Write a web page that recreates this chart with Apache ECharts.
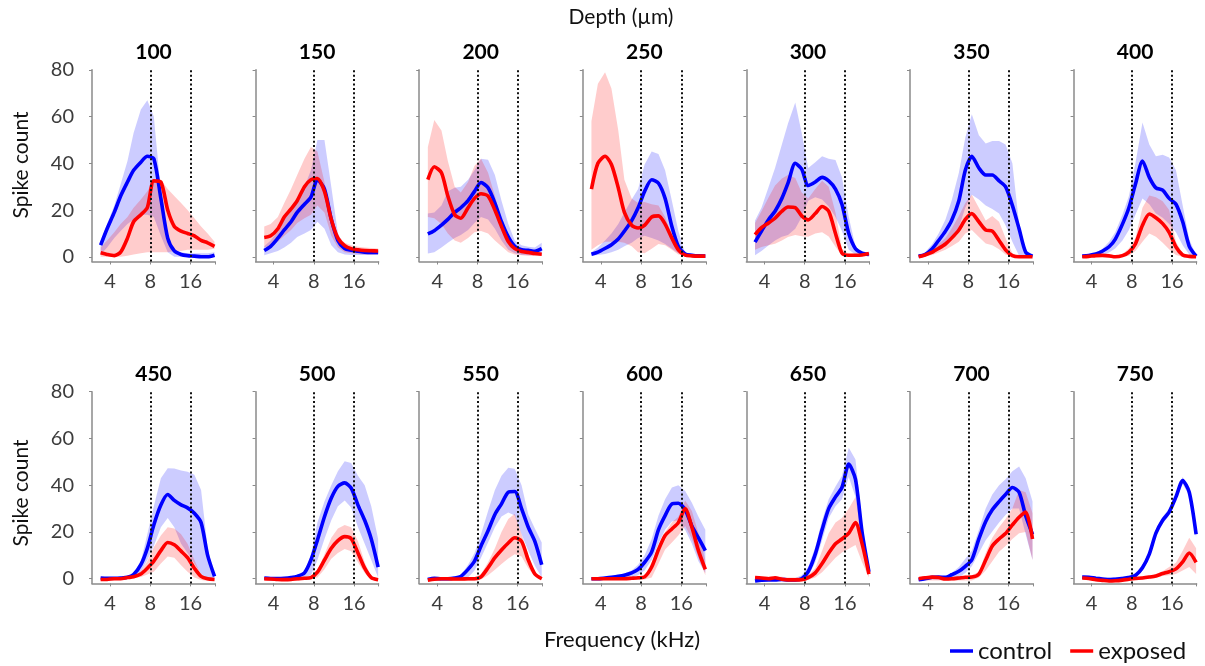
<!DOCTYPE html>
<html><head><meta charset="utf-8">
<script src="https://cdn.jsdelivr.net/npm/echarts@6/dist/echarts.min.js"></script>
<style>html,body{margin:0;padding:0;background:#fff}#c{width:1205px;height:666px}</style>
</head><body><div id="c"></div>
<script>
// ---- data ----
const FREQ_KHZ = [3.4, 3.8, 4.3, 4.8, 5.4, 6.0, 6.8, 7.6, 8.5, 9.6, 10.8, 12.1, 13.6, 15.2, 17.1, 19.2, 21.5, 24.2];
const X_TICK_KHZ = [4, 8, 16];
const X_RANGE_KHZ = [2.93, 24.4];
const DIVIDER_KHZ = [8, 16];
const Y_TICKS = [0, 20, 40, 60, 80];
const DEPTHS = [100, 150, 200, 250, 300, 350, 400, 450, 500, 550, 600, 650, 700, 750];

const c100   = [5, 12, 19, 26, 32, 37, 40.5, 43, 42, 25, 8, 2.5, 1, 0.5, 0.3, 0, 0, 0.7];
const c100lo = [1, 4, 8, 11, 14, 16, 18, 18, 17, 9, 2, 0, 0, 0, 0, 0, 0, 0];
const c100hi = [6, 14, 22, 31, 41, 53, 63, 67, 60, 28, 8.5, 3, 2, 1.5, 1.5, 1.5, 1.5, 2];
const e100   = [1.7, 1, 0.5, 2, 8, 15, 18, 21, 32.5, 32, 20, 13, 11, 10, 9, 7, 6, 4.5];
const e100lo = [0, 0, 0, 0, 0.5, 1, 1.5, 2, 2, 2, 2, 2.5, 2.5, 3, 3, 3, 3, 3.5];
const e100hi = [4, 7, 10.5, 14, 17, 21, 24.5, 28, 33, 33, 29, 26, 23, 20, 16.5, 13, 10, 6.5];

const c150   = [2.7, 4.5, 8, 11.5, 15, 19, 22.5, 25.5, 33, 29, 16, 7, 3.5, 2.8, 2.4, 2, 1.9, 1.9];
const c150lo = [0.7, 1.5, 2.5, 4, 6, 8.5, 10, 11.5, 15, 12, 5, 2, 1, 0.8, 0.8, 0.8, 0.8, 0.8];
const c150hi = [4.5, 7, 11, 16, 20, 24, 30, 37, 50, 50, 30, 10, 4.5, 3.5, 3, 2.8, 2.8, 2.8];
const e150   = [8.3, 9, 12, 17, 20.5, 24, 30, 33, 33.5, 28, 16, 8, 4.8, 3.5, 3, 2.7, 2.6, 2.5];
const e150lo = [4, 5, 6.5, 9, 11.5, 14.5, 16.5, 18, 22, 19, 9, 4, 2, 1.5, 1.2, 1, 1, 1];
const e150hi = [13, 14, 17, 23, 29, 35, 42, 47, 45, 32, 17, 9, 6, 5, 4.3, 4, 3.8, 3.6];

const c200   = [9.8, 11.2, 13.6, 16, 19, 21, 24, 28, 31.8, 29.5, 23, 15, 8.5, 4.5, 3, 2.8, 2.4, 3.5];
const c200lo = [1.4, 2, 4, 6, 8, 9.3, 11.5, 14.5, 17, 16, 12, 7, 3, 1.5, 0.8, 0.7, 0.7, 0.7];
const c200hi = [18.5, 19, 22, 28, 29.5, 30, 33, 37, 42, 41.5, 35, 24, 14, 7, 5, 4.3, 4, 6];
const e200   = [33, 38.5, 36, 26, 18, 16.5, 21, 25, 27, 26, 20, 13, 6.5, 3.5, 2.3, 1.9, 1.4, 1.1];
const e200lo = [17, 16.5, 14, 10, 7, 6, 8, 10.5, 11, 10, 7, 4.5, 2, 1, 0.7, 0.5, 0.4, 0.3];
const e200hi = [47, 58.5, 54, 41, 30, 27.5, 32, 39, 42, 36, 26, 16, 8.6, 4.5, 3, 2.6, 2.2, 1.7];

const c250   = [1.1, 2, 3.6, 5.2, 7.6, 11, 15.5, 21, 28, 33, 31.5, 25, 13, 4.5, 1.2, 0.7, 0.4, 0.3];
const c250lo = [0.5, 0.8, 1.2, 2, 3, 4.5, 6, 8, 9, 8, 7, 5.5, 3.5, 1.5, 0.5, 0.3, 0.3, 0.3];
const c250hi = [2, 4, 7, 10, 14, 19, 24.5, 29, 39.5, 45, 44, 37, 24, 11, 1.5, 0.8, 0.6, 0.5];
const e250   = [29, 40, 43, 39.5, 29.5, 19, 13.5, 12.3, 13.5, 17, 17.5, 14, 8, 3, 0.7, 0.4, 0.3, 0.3];
const e250lo = [3, 5, 6.5, 6.5, 6.5, 6, 4.5, 2, 1.5, 3.5, 5.5, 5, 3, 1, 0.3, 0, 0, 0];
const e250hi = [58, 74, 79, 72, 54, 33, 25, 23, 23.5, 22.5, 22, 17, 9, 3.5, 1.2, 0.8, 0.6, 0.5];

const c300   = [6.3, 11, 16, 19.5, 25, 31.5, 40, 37.5, 30.5, 32, 34, 32.5, 29, 22.5, 10, 3.5, 1.6, 1];
const c300lo = [0.7, 2.5, 5, 7, 8.6, 9.3, 12, 17, 24, 25.5, 24.5, 21.5, 17, 11, 3, 1, 0.7, 0.7];
const c300hi = [15.5, 21, 30, 38, 48, 57, 66, 53, 38, 40.5, 43, 42, 41.4, 34, 17, 4.3, 2.1, 1.7];
const e300   = [9.5, 12.5, 14.5, 16.5, 19.5, 21.3, 21, 17.5, 15.8, 18.5, 21.5, 19.5, 10, 1.6, 0.7, 0.7, 0.8, 1.4];
const e300lo = [3, 4.2, 5, 5.6, 7, 8.5, 9.3, 8.8, 8.6, 10, 10.5, 8.7, 4.3, 0.5, 0.3, 0.3, 0.4, 0.8];
const e300hi = [14.5, 19.5, 25.5, 30.5, 33.5, 35, 33.7, 27.5, 25, 29, 32.5, 30, 19, 3.5, 1.2, 1, 1, 1.5];

const c350   = [0.3, 1, 3.5, 7, 11, 15.5, 24, 37, 43, 38, 35, 35, 32.5, 30, 22, 12, 2, 0.3];
const c350lo = [0, 0.5, 1.2, 3, 5, 8, 12.5, 21, 26.5, 24.5, 22, 20.5, 18.5, 13.5, 6.5, 0.5, 0, 0];
const c350hi = [0.6, 2, 5.5, 10, 16, 24, 36, 51, 61, 52, 48.5, 49.5, 49.5, 48, 40, 14, 1.5, 0.5];
const e350   = [0, 0.8, 2, 3.6, 5.5, 8, 11.5, 16, 18.5, 15, 11.5, 11, 7, 3, 0.5, 0, 0, 0];
const e350lo = [0, 0.2, 0.8, 1.8, 3, 4.5, 6.5, 10, 11.5, 8.5, 5.7, 5, 3.2, 1, 0, 0, 0, 0];
const e350hi = [0.5, 1.5, 3.7, 5.5, 8, 12, 17.5, 23, 26.5, 21, 15.5, 17.5, 15, 8, 1.5, 0.3, 0.2, 0.2];

const c400   = [0.3, 0.6, 1.2, 2.4, 4.3, 7.5, 14, 21, 31, 41, 34, 29.5, 28.5, 25, 22.5, 15, 4.5, 0.3];
const c400lo = [0, 0.2, 0.4, 0.7, 1.8, 3.6, 7, 11.5, 18, 25, 22.5, 18.5, 16.7, 14, 10.5, 5, 1, 0];
const c400hi = [0.7, 1, 1.8, 3.3, 6.5, 10.5, 18, 26, 40, 57.5, 48, 43, 43.7, 42.5, 37, 22, 7.5, 0.7];
const e400   = [0, 0.2, 0.5, 0.6, 0.4, 0, 0.5, 2, 5.5, 13.5, 18.3, 16.7, 14.2, 10.5, 4.2, 0.8, 0.2, 0];
const e400lo = [0, 0, 0.2, 0.2, 0, 0, 0, 0.5, 2.5, 6.5, 10, 8.6, 6, 3.2, 0.8, 0, 0, 0];
const e400hi = [0.3, 0.5, 0.8, 1, 0.8, 0.5, 1.2, 3.6, 8, 21, 26.2, 25.5, 23.8, 20, 6.5, 1.5, 0.4, 0.2];

const c450   = [0.3, 0.2, 0.2, 0.3, 0.6, 1.8, 6, 13, 23, 31.5, 36, 33.5, 31.6, 30.3, 28, 24, 10, 1];
const c450lo = [0, 0, 0, 0, 0.2, 0.5, 3, 8, 14, 22, 26, 22, 15, 11, 6.5, 2, 0, 0];
const c450hi = [0.5, 0.5, 0.5, 0.6, 1, 2.5, 7.5, 19, 31, 43, 47.3, 47.2, 46.3, 45.8, 44.5, 38, 13, 1];
const e450   = [-0.3, -0.3, 0, 0, 0.5, 0.8, 2, 4.5, 7.5, 12, 15.5, 14.5, 11.8, 9, 4.5, 1, 0, -0.3];
const e450lo = [-1, -1, -0.5, -0.5, 0, 0.2, 0.7, 1.8, 3, 6.5, 9.5, 9, 5.8, 3, 0.5, -0.5, -1, -1];
const e450hi = [0.2, 0.2, 0.3, 0.5, 1, 1.5, 3.2, 7.5, 13.5, 18.5, 22, 21.5, 19, 15, 8, 1.5, 0.2, 0];

const c500   = [0.3, 0.1, 0.1, 0.2, 0.5, 1, 2.5, 8, 16.5, 26.5, 34.5, 39.5, 41, 38.8, 31.5, 25, 17, 5];
const c500lo = [0, 0, 0, 0, 0, 0, 0.5, 1.5, 8, 17, 25, 31, 33.5, 30.5, 22, 15, 8, 0.5];
const c500hi = [0.5, 0.5, 0.5, 0.5, 0.6, 1, 3, 10, 24, 33, 40, 46, 50.3, 49.5, 44, 40, 31, 17];
const e500   = [0, -0.1, -0.3, -0.4, -0.3, 0, 0.2, 0.5, 2.8, 8, 13, 16.3, 18, 17.2, 11, 4.5, 0.5, -0.4];
const e500lo = [-1, -1, -1, -1, -1, -1, -0.5, 0, 0.5, 4, 8.5, 11, 12.7, 11.7, 7, 2.5, -0.5, -1];
const e500hi = [0.3, 0.3, 0.3, 0.3, 0.3, 0.5, 0.8, 1.2, 3.5, 10.5, 17.5, 21.5, 23, 22, 16, 7, 1, 0];

const c550   = [-0.3, 0.2, 0, 0, 0.3, 1, 4, 7.5, 14, 20.5, 27.5, 32, 37, 37.3, 30, 22, 16, 6];
const c550lo = [-1, -0.5, -0.5, -0.5, -0.3, 0, 0.5, 3.5, 9, 15.5, 22, 26.6, 28.3, 27, 19, 12, 5.5, 0.5];
const c550hi = [0.5, 0.5, 0.5, 0.5, 0.8, 1.5, 6, 11, 19, 29, 38, 44, 47.5, 47, 40, 27.5, 21.5, 15.5];
const e550   = [-0.6, -0.2, 0, 0, -0.1, -0.1, 0, 0, 0.8, 4.7, 9, 12.3, 15.3, 17.5, 16, 8, 2, 0];
const e550lo = [-1, -1, -1, -1, -1, -1, -1, -1, -0.3, 1.5, 3.8, 6.3, 8.7, 10.5, 9.5, 4.5, 1.2, -0.5];
const e550hi = [0.3, 0.3, 0.3, 0.3, 0.3, 0.3, 0.3, 0.5, 2, 7, 13, 20, 25.5, 27.8, 19, 10, 3, 0.5];

const c600   = [0, 0, 0.3, 0.6, 1, 1.5, 2.5, 4, 7, 11.5, 21, 27, 32, 32.3, 29.5, 22.5, 17.5, 12];
const c600lo = [0, 0, 0, 0, 0, 0, 0.5, 1.5, 3.5, 8, 15, 21, 24.5, 25, 21, 15, 7.5, 2.5];
const c600hi = [0.3, 0.3, 0.6, 1, 1.5, 2.3, 3.5, 6, 10, 17, 27, 34, 39, 40, 37.5, 32.5, 26.5, 21];
const e600   = [0, 0, 0, 0, 0, 0, 0.2, 0.4, 0.8, 5, 12.5, 18.5, 21.3, 24, 30, 22, 12, 4];
const e600lo = [-0.5, -0.5, -0.5, -0.5, -0.5, -0.5, -0.5, -0.5, -0.3, 0.5, 6.5, 12.5, 15.5, 18.5, 22.5, 17, 9, 1.5];
const e600hi = [0.3, 0.3, 0.3, 0.3, 0.3, 0.3, 0.3, 0.5, 1, 7, 14, 20, 24, 26.5, 33.5, 29, 19.5, 8];

const c650   = [-1, -0.6, -0.5, -0.5, -0.3, -0.5, -0.5, 0, 3, 10.5, 21, 30, 35, 39, 49, 42.5, 20, 3];
const c650lo = [-1.5, -1.2, -1, -1, -1, -1, -1, -0.8, 1, 7, 16.5, 26, 31, 34, 43.5, 35, 16, 2];
const c650hi = [-0.3, 0, 0, 0, 0.3, 0.3, 0.3, 1.5, 5, 13.5, 25, 34, 39.5, 44, 56, 51, 24, 4];
const e650   = [0.5, 0.3, 0, 0.4, -0.2, -0.5, -0.5, -0.4, 0.5, 2.5, 6.5, 11, 15, 17, 19.5, 24, 15, 2];
const e650lo = [-1, -1, -1, -1, -1, -1.2, -1.2, -1, -0.5, 0.5, 2.8, 5.8, 9, 11.2, 12.8, 14.4, 7, 0.5];
const e650hi = [1, 1, 1, 1, 0.8, 0.5, 0.5, 0.8, 1.5, 4.5, 12, 19.5, 24, 26, 30, 35, 22, 3];

const c700   = [-0.4, 0, 0.6, 0.7, 0.6, 1.7, 3.2, 5.3, 8.1, 17, 24.5, 29.5, 33, 36, 39, 37, 27, 19];
const c700lo = [-1, -0.5, -0.3, -0.3, -0.3, -0.3, 0.5, 2.4, 5.3, 11, 16.5, 20.2, 24, 27.3, 30, 30, 19, 8];
const c700hi = [0.3, 0.5, 1, 1, 1, 2.5, 5, 8.5, 12, 21, 30, 36, 40, 42.5, 46, 48, 43, 33];
const e700   = [0, 0.4, 0.7, 0.5, -0.1, 0, 0.3, 0.6, 0.7, 2, 8, 14, 17, 19.3, 23, 26.3, 28.5, 17];
const e700lo = [-0.8, -0.8, -0.8, -0.8, -0.8, -0.8, -0.8, -0.8, -0.8, 0.5, 3.5, 7.5, 11.5, 14, 17, 19.5, 20, 8];
const e700hi = [0.8, 0.8, 0.8, 0.8, 0.8, 0.8, 0.8, 1, 1.5, 3, 11, 17.5, 22, 25.5, 30, 38, 37, 28];

const c750   = [0.7, 0.6, 0.2, -0.1, -0.4, -0.2, 0.1, 0.5, 1.4, 4.7, 10.5, 19.5, 25, 28.5, 35, 42, 37, 19];
const c750lo = [-0.1, -0.2, -0.6, -0.9, -1.2, -1, -0.7, -0.4, 0.3, 3.4, 9, 18, 23.5, 27, 33.5, 40.5, 35.5, 17.5];
const c750hi = [1.5, 1.4, 1, 0.7, 0.4, 0.6, 0.9, 1.4, 2.5, 6, 12, 21, 26.5, 30, 36.5, 43.5, 38.5, 20.5];
const e750   = [0.3, 0.1, -0.4, -0.7, -1, -0.9, -0.6, -0.2, 0.1, 0.3, 0.7, 1.2, 2.2, 3, 4.2, 7.2, 11, 7];
const e750lo = [-0.3, -0.5, -1, -1.3, -1.6, -1.5, -1.2, -0.7, -0.4, -0.3, 0, 0.4, 1.2, 1.5, 2, 3.5, 5, 2];
const e750hi = [0.8, 0.6, 0.3, 0, -0.3, -0.3, 0, 0.3, 0.6, 0.9, 1.4, 2, 3.2, 5, 6.8, 12, 17.5, 13];

const PANEL_DATA = {
  100: [c100, c100lo, c100hi, e100, e100lo, e100hi],
  150: [c150, c150lo, c150hi, e150, e150lo, e150hi],
  200: [c200, c200lo, c200hi, e200, e200lo, e200hi],
  250: [c250, c250lo, c250hi, e250, e250lo, e250hi],
  300: [c300, c300lo, c300hi, e300, e300lo, e300hi],
  350: [c350, c350lo, c350hi, e350, e350lo, e350hi],
  400: [c400, c400lo, c400hi, e400, e400lo, e400hi],
  450: [c450, c450lo, c450hi, e450, e450lo, e450hi],
  500: [c500, c500lo, c500hi, e500, e500lo, e500hi],
  550: [c550, c550lo, c550hi, e550, e550lo, e550hi],
  600: [c600, c600lo, c600hi, e600, e600lo, e600hi],
  650: [c650, c650lo, c650hi, e650, e650lo, e650hi],
  700: [c700, c700lo, c700hi, e700, e700lo, e700hi],
  750: [c750, c750lo, c750hi, e750, e750lo, e750hi]
};

// ---- chart ----
const FONT = 'Lato, "Open Sans", "DejaVu Sans", sans-serif';
const BLUE = '#0000ff', RED = '#ff0000';
const BLUE_BAND = 'rgba(0,0,255,0.2)', RED_BAND = 'rgba(255,0,0,0.2)';
const AXIS_GRAY = '#8a8a8a';
const LOG2 = v => Math.log2(v);
const xVals = FREQ_KHZ.map(LOG2);

const grids = [], xAxes = [], yAxes = [], series = [], graphics = [];

function bandSeries(i, name, lo, hi, fill) {
  return {
    type: 'custom', name: name, xAxisIndex: i, yAxisIndex: i, silent: true, z: 1,
    data: xVals.map((x, k) => [x, lo[k], hi[k]]),
    encode: { x: 0, y: [1, 2] },
    renderItem: function (params, api) {
      if (params.dataIndex !== 0) return null;
      const pts = [];
      for (let k = 0; k < xVals.length; k++) pts.push(api.coord([xVals[k], hi[k]]));
      for (let k = xVals.length - 1; k >= 0; k--) pts.push(api.coord([xVals[k], lo[k]]));
      return { type: 'polygon', shape: { points: pts }, style: { fill: fill } };
    }
  };
}

DEPTHS.forEach((d, i) => {
  const col = i % 7, row = Math.floor(i / 7);
  const left = 92 + col * 163.6;
  const top = row === 0 ? 69.8 : 391.7;
  const w = 123, h = 191.7;
  grids.push({ left: left, top: top, width: w, height: h });
  xAxes.push({
    gridIndex: i, type: 'value', min: LOG2(X_RANGE_KHZ[0]), max: LOG2(X_RANGE_KHZ[1]),
    splitLine: { show: false },
    axisLine: { onZero: false, lineStyle: { color: AXIS_GRAY, width: 1.5 } },
    axisTick: { show: true, length: 3, lineStyle: { color: AXIS_GRAY, width: 1 },
                customValues: X_TICK_KHZ.map(LOG2).concat([LOG2(X_RANGE_KHZ[1])]) },
    axisLabel: { customValues: X_TICK_KHZ.map(LOG2), margin: 10, fontSize: 20, color: '#3c3c3c',
                 fontFamily: FONT, formatter: v => String(Math.round(Math.pow(2, v))) }
  });
  yAxes.push({
    gridIndex: i, type: 'value', min: -2, max: 80,
    splitLine: { show: false },
    axisLine: { show: true, onZero: false, lineStyle: { color: AXIS_GRAY, width: 1.5 } },
    axisTick: { show: true, length: 3, lineStyle: { color: AXIS_GRAY, width: 1 }, customValues: Y_TICKS },
    axisLabel: { show: col === 0, customValues: Y_TICKS, margin: 18, fontSize: 20, color: '#3c3c3c', fontFamily: FONT }
  });
  const p = PANEL_DATA[d];
  series.push(bandSeries(i, 'control band', p[1], p[2], BLUE_BAND));
  series.push(bandSeries(i, 'exposed band', p[4], p[5], RED_BAND));
  series.push({
    type: 'line', name: 'control', xAxisIndex: i, yAxisIndex: i, z: 3,
    data: xVals.map((x, k) => [x, p[0][k]]), showSymbol: false, smooth: 0.25,
    lineStyle: { color: BLUE, width: 3.6 }, itemStyle: { color: BLUE },
    markLine: {
      silent: true, symbol: 'none', label: { show: false },
      lineStyle: { color: '#111', width: 2, type: [2, 2.4] },
      data: DIVIDER_KHZ.map(f => ({ xAxis: LOG2(f) }))
    }
  });
  series.push({
    type: 'line', name: 'exposed', xAxisIndex: i, yAxisIndex: i, z: 4,
    data: xVals.map((x, k) => [x, p[3][k]]), showSymbol: false, smooth: 0.25,
    lineStyle: { color: RED, width: 3.6 }, itemStyle: { color: RED }
  });
  graphics.push({
    type: 'text', x: left + w / 2, y: top - 17.5, silent: true,
    style: { text: String(d), fontSize: 21, fontWeight: 'bold', fontFamily: FONT, fill: '#000',
             align: 'center', verticalAlign: 'middle' }
  });
});

graphics.push({ type: 'text', x: 621, y: 17, silent: true,
  style: { text: 'Depth (µm)', fontSize: 21, fontFamily: FONT, fill: '#111', align: 'center', verticalAlign: 'middle' } });
graphics.push({ type: 'text', x: 622, y: 640, silent: true,
  style: { text: 'Frequency (kHz)', fontSize: 22, fontFamily: FONT, fill: '#111', align: 'center', verticalAlign: 'middle' } });
[165, 493].forEach(cy => graphics.push({ type: 'text', x: 21, y: cy, rotation: Math.PI / 2, silent: true,
  style: { text: 'Spike count', fontSize: 21, fontFamily: FONT, fill: '#111', align: 'center', verticalAlign: 'middle' } }));

const chart = echarts.init(document.getElementById('c'));
chart.setOption({
  animation: false,
  backgroundColor: '#fff',
  grid: grids, xAxis: xAxes, yAxis: yAxes, series: series,
  graphic: graphics,
  legend: {
    data: ['control', 'exposed'], left: 945, top: 634, icon: 'rect', itemWidth: 23, itemHeight: 3.5,
    itemGap: 18, selectedMode: false,
    textStyle: { fontSize: 24, fontFamily: FONT, color: '#111' }
  }
});
</script></body></html>
